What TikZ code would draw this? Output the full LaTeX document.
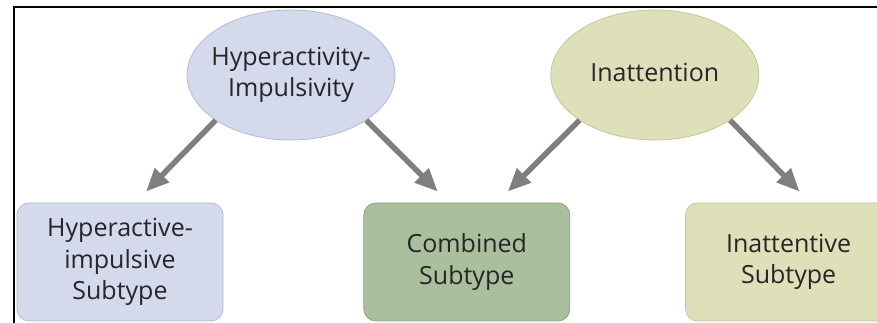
\documentclass[tikz,border=0pt]{standalone}
\usepackage{fontspec}
\setmainfont{Open Sans}
\usepackage{tikz}
\usetikzlibrary{positioning,shapes.geometric,arrows.meta}

\definecolor{hypfill}{HTML}{D4D9EC}
\definecolor{hypline}{HTML}{B3BAD5}
\definecolor{combfill}{HTML}{A9BF9D}
\definecolor{combline}{HTML}{8FA684}
\definecolor{inatfill}{HTML}{DEE0B9}
\definecolor{inatline}{HTML}{C3C69E}
\definecolor{txt}{HTML}{262626}
\definecolor{arrgray}{HTML}{7F7F7F}

\tikzset{
  txtfont/.style={font=\fontsize{25}{31.5}\selectfont, text=txt, align=center},
  oval/.style={ellipse, draw, line width=0.8pt, inner xsep=-12pt, inner ysep=0pt,
    minimum width=208pt, minimum height=130pt, txtfont},
  subbox/.style={rectangle, draw, line width=0.8pt, rounded corners=12pt,
    minimum width=206pt, minimum height=118pt, txtfont},
  arr/.style={draw=arrgray, line width=5.5pt,
    -{Triangle[length=23pt,width=19pt]}, fill=arrgray},
}

\begin{document}
\begin{tikzpicture}[x=1pt,y=1pt]
\clip (0,0) rectangle (877,323);
\fill[white] (0,0) rectangle (877,323);
\draw[line width=2pt] (14,-5) -- (14,316) -- (890,316);
%----------------------------------
\node [oval, fill=hypfill, draw=hypline] (hyp) at (291,248) {Hyperactivity-\\Impulsivity};
\node [oval, fill=inatfill, draw=inatline, right=155pt of hyp] (inat) {\raisebox{6pt}{Inattention}};
%----------------------------------
\node [subbox, fill=hypfill, draw=hypline] (hypbox) at (120,61) {Hyperactive-\\impulsive\\Subtype};
\node [subbox, fill=combfill, draw=combline, right=140pt of hypbox] (comb) {Combined\\Subtype};
\node [subbox, fill=inatfill, draw=inatline, right=115pt of comb] (inatbox) {Inattentive\\Subtype};
%----------------------------------
\coordinate [above right=11pt and 26pt of hypbox.north] (t1);
\coordinate [above left=11pt and 29pt of comb.north] (t2);
\coordinate [above right=11pt and 41pt of comb.north] (t3);
\coordinate [above right=11pt and 11pt of inatbox.north] (t4);
\draw [arr] (hyp.211) -- (t1);
\draw [arr] (hyp.329) -- (t2);
\draw [arr] (inat.211) -- (t3);
\draw [arr] (inat.329) -- (t4);
\end{tikzpicture}
\end{document}
